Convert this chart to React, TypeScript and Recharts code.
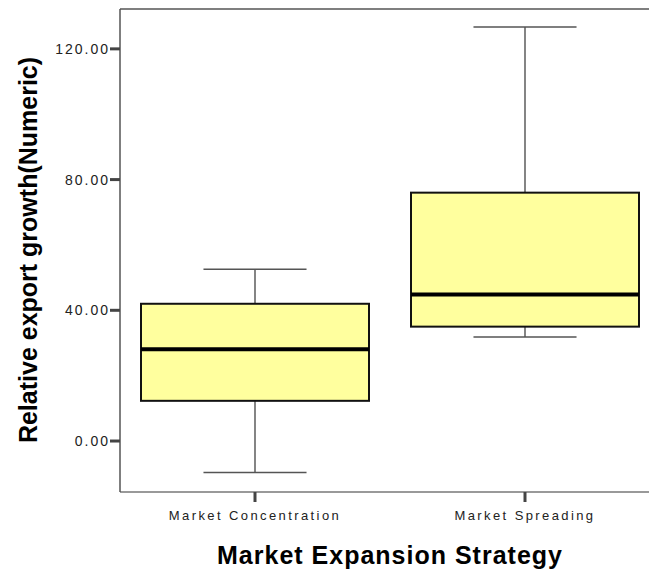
import React from "react";
import { ComposedChart, Bar, XAxis, YAxis, ReferenceLine } from "recharts";

const categories = ["Market Concentration", "Market Spreading"];
const whiskerLow = [-9.6, 31.8];
const q1 = [12.3, 35.0];
const median = [28.1, 44.8];
const q3 = [42.0, 76.0];
const whiskerHigh = [52.6, 126.7];
const yTicks = [0, 40, 80, 120];
const yDomain = [-15.6, 132.2];

const data = categories.map((name, i) => ({
  name,
  range: [whiskerLow[i], whiskerHigh[i]],
  lo: whiskerLow[i],
  q1: q1[i],
  med: median[i],
  q3: q3[i],
  hi: whiskerHigh[i],
}));

const FONT = "'Liberation Sans', Arial, sans-serif";

const BoxShape = (props: any) => {
  const { x, y, width, height, payload } = props;
  const lo = payload.lo;
  const hi = payload.hi;
  const yTop = Math.min(y, y + height);
  const yBot = Math.max(y, y + height);
  const toY = (v: number) => yTop + ((hi - v) / (hi - lo)) * (yBot - yTop);
  const cx = x + width / 2;
  const capHalf = width * 0.226;
  const yQ1 = toY(payload.q1);
  const yQ3 = toY(payload.q3);
  const yMed = toY(payload.med);
  return (
    <g>
      <line x1={cx} x2={cx} y1={yTop} y2={yQ3} stroke="#333" strokeWidth={1.2} />
      <line x1={cx} x2={cx} y1={yQ1} y2={yBot} stroke="#333" strokeWidth={1.2} />
      <line x1={cx - capHalf} x2={cx + capHalf} y1={yTop} y2={yTop} stroke="#555" strokeWidth={1.5} />
      <line x1={cx - capHalf} x2={cx + capHalf} y1={yBot} y2={yBot} stroke="#555" strokeWidth={1.5} />
      <rect x={x} y={yQ3} width={width} height={yQ1 - yQ3} fill="#FFFF9E" stroke="#111" strokeWidth={2} />
      <line x1={x} x2={x + width} y1={yMed} y2={yMed} stroke="#000" strokeWidth={4} />
    </g>
  );
};

const YTick = (props: any) => {
  const { x, y, payload } = props;
  return (
    <text x={x} y={y} textAnchor="end" dominantBaseline="central" fontFamily={FONT} fontSize={14} letterSpacing={2} fill="#222">
      {Number(payload.value).toFixed(2)}
    </text>
  );
};

const XTick = (props: any) => {
  const { x, y, payload } = props;
  return (
    <text x={x} y={y + 11} textAnchor="middle" dominantBaseline="central" fontFamily={FONT} fontSize={13} letterSpacing={2.4} fill="#222">
      {payload.value}
    </text>
  );
};

export default function App() {
  return (
    <div style={{ position: "absolute", left: 0, top: 0, width: 649, height: 571, overflow: "hidden", background: "#fff" }}>
      <ComposedChart width={660} height={571} data={data} margin={{ top: 9, right: 0, bottom: 0, left: 0 }} barCategoryGap={21}>
        <XAxis
          dataKey="name"
          height={79}
          axisLine={{ stroke: "#999", strokeWidth: 2 }}
          tickLine={{ stroke: "#444", strokeWidth: 3 }}
          tickSize={10}
          tick={<XTick />}
          interval={0}
        />
        <YAxis
          type="number"
          domain={yDomain}
          ticks={yTicks}
          width={120}
          axisLine={{ stroke: "#555", strokeWidth: 1.5 }}
          tickLine={{ stroke: "#444", strokeWidth: 3 }}
          tickSize={10}
          tickMargin={0}
          tick={<YTick />}
          allowDataOverflow
        />
        <ReferenceLine y={yDomain[1]} stroke="#555" strokeWidth={1.5} ifOverflow="visible" />
        <Bar dataKey="range" shape={<BoxShape />} isAnimationActive={false} />
        <text x={28} y={250} transform="rotate(-90 28 250)" textAnchor="middle" dominantBaseline="central" fontFamily={FONT} fontSize={25} fontWeight="bold" fill="#000">
          Relative export growth(Numeric)
        </text>
        <text x={390} y={555} textAnchor="middle" dominantBaseline="central" fontFamily={FONT} fontSize={25} letterSpacing={1} fontWeight="bold" fill="#000">
          Market Expansion Strategy
        </text>
      </ComposedChart>
    </div>
  );
}
